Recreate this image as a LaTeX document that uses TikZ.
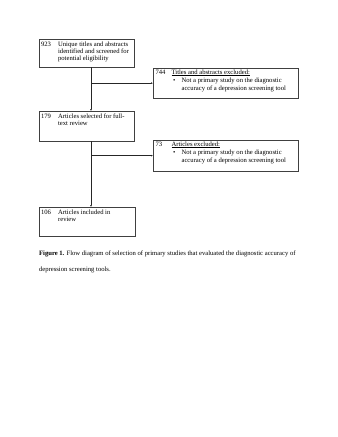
\documentclass[tikz,border=0pt]{standalone}
\usepackage{fontspec}
\setmainfont{Liberation Serif}
\usetikzlibrary{arrows.meta}
\newlength\upx
\setlength\upx{1.8107pt}
\tikzset{
  box/.style={draw=black!75, line width=0.5pt, rectangle, anchor=north west, inner sep=0pt},
  txt/.style={anchor=north west, inner sep=0pt, font=\fontsize{12}{13}\selectfont},
  arr/.style={draw=black!85, line width=0.6pt, -{Latex[length=3.5pt,width=3pt]}}
}
\begin{document}
\begin{tikzpicture}[x=1.8107pt,y=-1.8107pt]
\useasboundingbox (0,0) rectangle (338,437);
% boxes
\node[box, minimum width=95\upx, minimum height=28\upx] (b1) at (39,39) {};
\node[box, minimum width=145\upx, minimum height=30\upx] (b2) at (153,68) {};
\node[box, minimum width=95\upx, minimum height=30\upx] (b3) at (39,111) {};
\node[box, minimum width=145\upx, minimum height=31\upx] (b4) at (153,140) {};
\node[box, minimum width=96\upx, minimum height=29\upx] (b5) at (39,207) {};
% texts
\node[txt] (t1) at (41,41.5) {\begin{tabular}{@{}p{17\upx}@{}l@{}}923 & Unique titles and abstracts\\ & identified and screened for\\ & potential eligibility\end{tabular}};
\node[txt] (t2) at (155.5,69.5) {\begin{tabular}{@{}p{16\upx}@{}l@{}}744 & \underline{Titles and abstracts excluded:}\\[2pt] & \hspace{1.5\upx}\makebox[8.5\upx][l]{\textbullet}Not a primary study on the diagnostic\\ & \hspace{10\upx}accuracy of a depression screening tool\end{tabular}};
\node[txt] (t3) at (41,113) {\begin{tabular}{@{}p{17\upx}@{}l@{}}179 & Articles selected for full-\\ & text review\end{tabular}};
\node[txt] (t4) at (155.5,141.5) {\begin{tabular}{@{}p{16\upx}@{}l@{}}73 & \underline{Articles excluded:}\\[2pt] & \hspace{1.5\upx}\makebox[8.5\upx][l]{\textbullet}Not a primary study on the diagnostic\\ & \hspace{10\upx}accuracy of a depression screening tool\end{tabular}};
\node[txt] (t5) at (41,209.5) {\begin{tabular}{@{}p{17\upx}@{}l@{}}106 & Articles included in\\ & review\end{tabular}};
% connectors
\draw[arr] (b1.south -| 91,0) -- (b3.north -| 91,0);
\draw[arr] (91,0 |- b2.west) -- (b2.west);
\draw[arr] (b3.south -| 91,0) -- (b5.north -| 91,0);
\draw[arr] (91,0 |- b4.west) -- (b4.west);
% caption
\node[anchor=north west, inner sep=0pt, font=\fontsize{12}{13.8}\selectfont] (cap1) at (39,250.5) {\textbf{Figure 1.} Flow diagram of selection of primary studies that evaluated the diagnostic accuracy of};
\node[anchor=north west, inner sep=0pt, font=\fontsize{12}{13.8}\selectfont] (cap2) at (39,266.5) {depression screening tools.};
\end{tikzpicture}
\end{document}
